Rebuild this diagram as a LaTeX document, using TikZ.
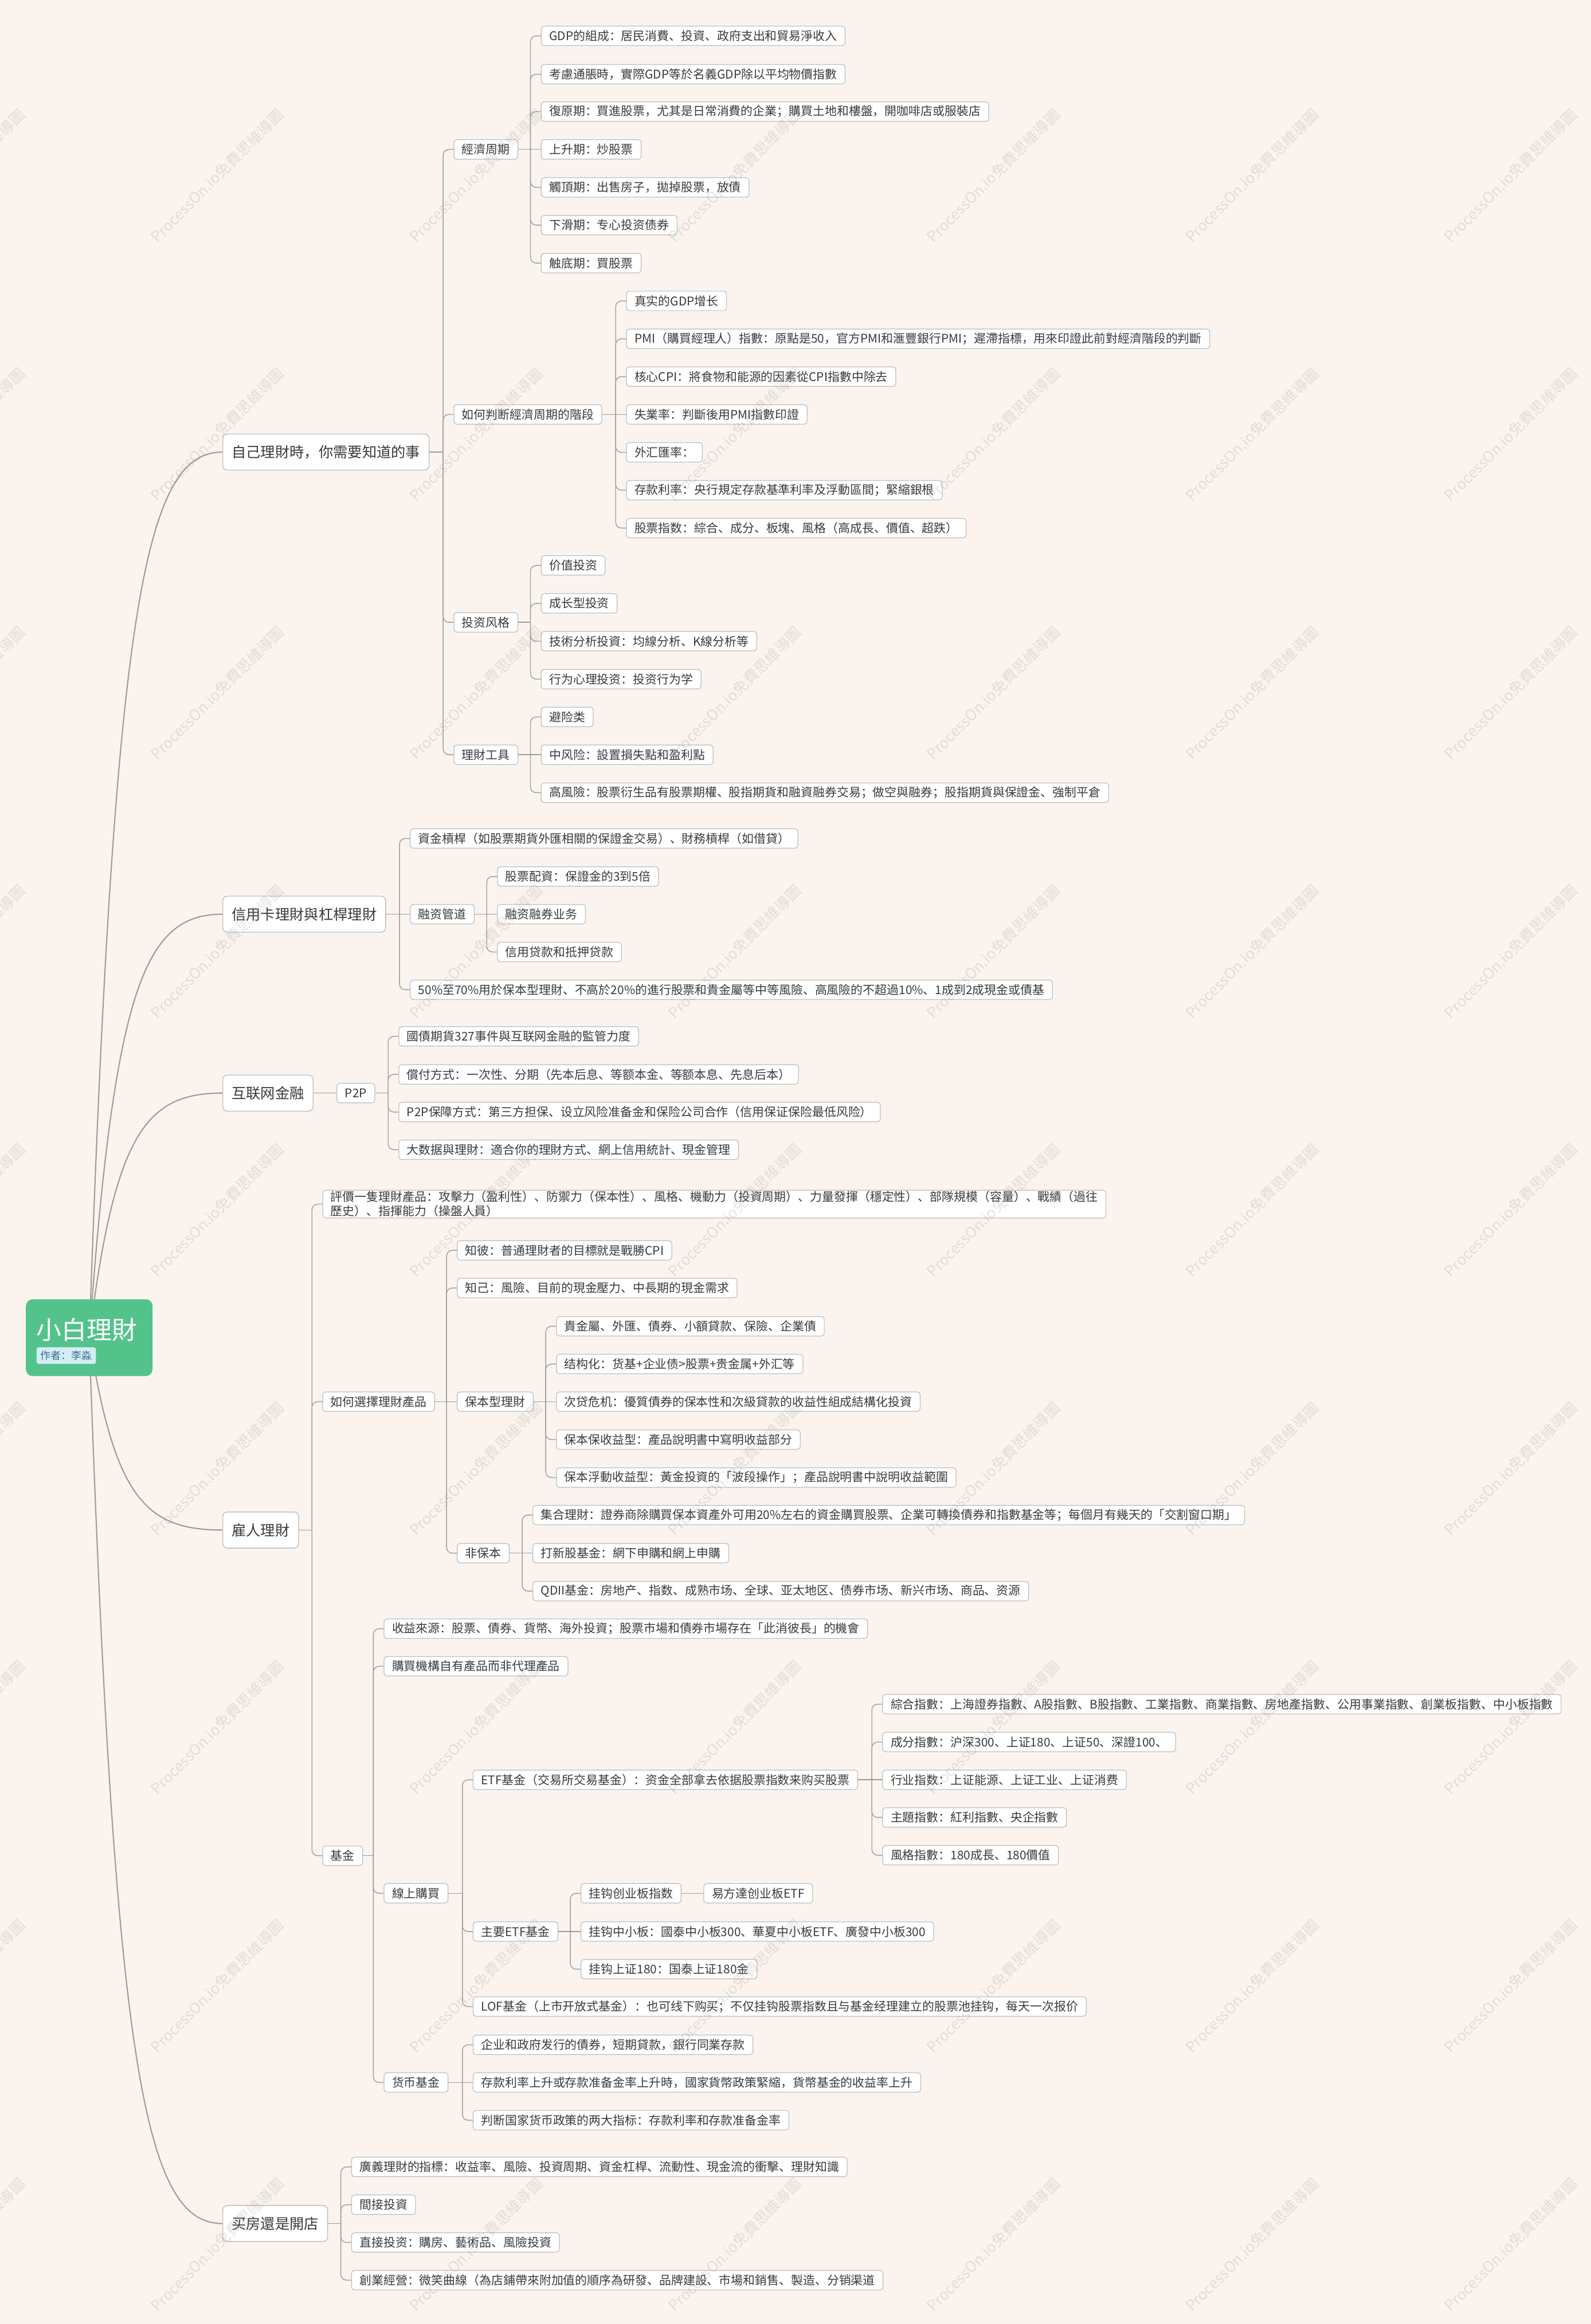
\documentclass[tikz,border=0pt]{standalone}
\usepackage{fontspec}
\setmainfont{Noto Sans CJK SC}
\usetikzlibrary{calc,backgrounds}
\definecolor{paperpeach}{HTML}{FBF4EE}
\definecolor{rootgreen}{HTML}{53C38B}
\definecolor{tagblue}{HTML}{D4EDF5}
\definecolor{taginkblue}{HTML}{3D6E8C}
\definecolor{ink}{HTML}{3A3A3A}
\definecolor{boxline}{HTML}{BEBEBE}
\definecolor{linkgray}{HTML}{9C9C9C}

\begin{document}
\begin{tikzpicture}[
  x=0.02586cm,y=-0.02586cm,
  font=\fontsize{5.95pt}{7.1pt}\selectfont,
  mainidea/.style={fill=rootgreen,rounded corners=0.12cm,minimum width=2.21cm,
                   minimum height=1.34cm,inner sep=0pt},
  topicbox/.style={draw=boxline,line width=.4pt,fill=white,rounded corners=0.08cm,anchor=west,
                   text=ink,font=\fontsize{7.2pt}{8.6pt}\selectfont,minimum height=0.63cm,
                   inner xsep=0.155cm,inner ysep=0pt},
  itembox/.style={draw=boxline,line width=.35pt,fill=white,rounded corners=0.05cm,anchor=west,
                  text=ink,minimum height=0.34cm,inner xsep=0.14cm,inner ysep=0.5pt},
  linkline/.style={draw=linkgray,line width=.4pt,rounded corners=0.1cm},
  branchline/.style={draw=linkgray,line width=.6pt},
  wmark/.style={rotate=45,text=gray,text opacity=.2,font=\fontsize{7.4pt}{8pt}\selectfont,inner sep=0pt}
]
\useasboundingbox (0,0) rectangle (1073,1568);

% Central idea
\node[mainidea] (root) at (60.2,902.5) {};
\node[anchor=west,text=white,font=\fontsize{12.5pt}{14pt}\selectfont,inner sep=0pt] (title) at (24.4,897) {小白理財};
\node[anchor=west,fill=tagblue,text=taginkblue,rounded corners=0.04cm,font=\fontsize{5.1pt}{6pt}\selectfont,
      inner xsep=0.07cm,inner ysep=0pt,minimum height=0.29cm] (author) at (24.4,914.6) {作者：李淼};

% Main topics
\node[topicbox] (self) at (150,305) {自己理財時，你需要知道的事};
\node[topicbox] (credit) at (150,616.8) {信用卡理財與杠桿理財};
\node[topicbox] (net) at (150,737.5) {互联网金融};
\node[topicbox] (hire) at (150,1032.3) {雇人理財};
\node[topicbox] (shop) at (150,1500.2) {买房還是開店};

% Knowing the basics
\node[itembox] (cycle) at (305.9,100.8) {經濟周期};
\node[itembox] (phase) at (305.9,279.6) {如何判断經濟周期的階段};
\node[itembox] (style) at (305.9,419.9) {投资风格};
\node[itembox] (tools) at (305.9,509.2) {理財工具};

\node[itembox] (gdp) at (364.8,24.2) {GDP的組成：居民消費、投資、政府支出和貿易淨收入};
\node[itembox] (real) at (364.8,50.1) {考慮通脹時，實際GDP等於名義GDP除以平均物價指數};
\node[itembox] (recover) at (364.8,75.3) {復原期：買進股票，尤其是日常消費的企業；購買土地和樓盤，開咖啡店或服裝店};
\node[itembox] (rise) at (364.8,100.8) {上升期：炒股票};
\node[itembox] (peak) at (364.8,126.4) {觸頂期：出售房子，拋掉股票，放債};
\node[itembox] (slide) at (364.8,151.9) {下滑期：专心投资债券};
\node[itembox] (bottom) at (364.8,177.5) {触底期：買股票};

\node[itembox] (gdpgrow) at (422.3,203.0) {真实的GDP增长};
\node[itembox] (pmi) at (422.3,228.6) {PMI（購買經理人）指數：原點是50，官方PMI和滙豐銀行PMI；遲滯指標，用來印證此前對經濟階段的判斷};
\node[itembox] (cpi) at (422.3,254.1) {核心CPI：將食物和能源的因素從CPI指數中除去};
\node[itembox] (jobless) at (422.3,279.6) {失業率：判斷後用PMI指數印證};
\node[itembox] (fx) at (422.3,305.2) {外汇匯率：};
\node[itembox] (deposit) at (422.3,330.7) {存款利率：央行規定存款基準利率及浮動區間；緊縮銀根};
\node[itembox] (stockidx) at (422.3,356.3) {股票指数：綜合、成分、板塊、風格（高成長、價值、超跌）};

\node[itembox] (value) at (364.8,381.5) {价值投资};
\node[itembox] (growth) at (364.8,407.1) {成长型投资};
\node[itembox] (tech) at (364.8,432.6) {技術分析投資：均線分析、K線分析等};
\node[itembox] (behav) at (364.8,458.2) {行为心理投资：投资行为学};

\node[itembox] (hedge) at (364.8,483.7) {避险类};
\node[itembox] (midrisk) at (364.8,509.2) {中风险：設置損失點和盈利點};
\node[itembox] (highrisk) at (364.8,534.8) {高風險：股票衍生品有股票期權、股指期貨和融資融券交易；做空與融券；股指期貨與保證金、強制平倉};

% Leverage
\node[itembox] (lever) at (276.5,565.7) {資金槓桿（如股票期貨外匯相關的保證金交易）、財務槓桿（如借貸）};
\node[itembox] (channel) at (276.5,616.8) {融资管道};
\node[itembox] (ratio) at (276.5,667.8) {50\%至70\%用於保本型理財、不高於20\%的進行股票和貴金屬等中等風險、高風險的不超過10\%、1成到2成現金或債基};
\node[itembox] (margin) at (335.3,591.4) {股票配資：保證金的3到5倍};
\node[itembox] (mfsl) at (335.3,616.8) {融资融券业务};
\node[itembox] (loans) at (335.3,642.3) {信用贷款和抵押贷款};

% Internet finance
\node[itembox] (ptp) at (227,737.5) {P2P};
\node[itembox] (bondevt) at (268.8,699.2) {國債期貨327事件與互联网金融的監管力度};
\node[itembox] (repay) at (268.8,724.9) {償付方式：一次性、分期（先本后息、等额本金、等额本息、先息后本）};
\node[itembox] (guard) at (268.8,750.3) {P2P保障方式：第三方担保、设立风险准备金和保险公司合作（信用保证保险最低风险）};
\node[itembox] (bigdata) at (268.8,775.7) {大数据與理財：適合你的理財方式、網上信用統計、現金管理};

% Hired management
\node[itembox,align=left] (rating) at (217.4,812.4) {評價一隻理財產品：攻擊力（盈利性）、防禦力（保本性）、風格、機動力（投資周期）、力量發揮（穩定性）、部隊規模（容量）、戰績（過往\\歷史）、指揮能力（操盤人員）};
\node[itembox] (choose) at (217.4,945.7) {如何選擇理財產品};
\node[itembox] (fund) at (217.4,1252) {基金};

\node[itembox] (knowthem) at (308.2,843.6) {知彼：普通理財者的目標就是戰勝CPI};
\node[itembox] (knowself) at (308.2,869.0) {知己：風險、目前的現金壓力、中長期的現金需求};
\node[itembox] (safe) at (308.2,945.7) {保本型理財};
\node[itembox] (unsafe) at (308.2,1047.9) {非保本};

\node[itembox] (metals) at (375.1,894.8) {貴金屬、外匯、債券、小額貸款、保險、企業債};
\node[itembox] (struct) at (375.1,920.3) {结构化：货基+企业债>股票+贵金属+外汇等};
\node[itembox] (subprime) at (375.1,945.7) {次贷危机：優質債券的保本性和次級貸款的收益性組成結構化投資};
\node[itembox] (fixedret) at (375.1,971.3) {保本保收益型：產品說明書中寫明收益部分};
\node[itembox] (floatret) at (375.1,996.9) {保本浮動收益型：黃金投資的「波段操作」；產品說明書中說明收益範圍};

\node[itembox] (pooled) at (359.2,1022.2) {集合理財：證券商除購買保本資產外可用20\%左右的資金購買股票、企業可轉換債券和指數基金等；每個月有幾天的「交割窗口期」};
\node[itembox] (ipofund) at (359.2,1047.9) {打新股基金：網下申購和網上申購};
\node[itembox] (qdii) at (359.2,1073.5) {QDII基金：房地产、指数、成熟市场、全球、亚太地区、债券市场、新兴市场、商品、资源};

\node[itembox] (income) at (258.8,1098.9) {收益來源：股票、債券、貨幣、海外投資；股票市場和債券市場存在「此消彼長」的機會};
\node[itembox] (ownprod) at (258.8,1124.2) {購買機構自有產品而非代理產品};
\node[itembox] (online) at (258.8,1277.4) {線上購買};
\node[itembox] (money) at (258.8,1405.0) {货币基金};

\node[itembox] (etf) at (318.9,1200.8) {ETF基金（交易所交易基金）：资金全部拿去依据股票指数来购买股票};
\node[itembox] (mainetf) at (318.9,1303.2) {主要ETF基金};
\node[itembox] (lof) at (318.9,1353.8) {LOF基金（上市开放式基金）：也可线下购买；不仅挂钩股票指数且与基金经理建立的股票池挂钩，每天一次报价};

\node[itembox] (composite) at (595.1,1149.8) {綜合指數：上海證券指數、A股指數、B股指數、工業指數、商業指數、房地產指數、公用事業指數、創業板指數、中小板指數};
\node[itembox] (component) at (595.1,1175.3) {成分指數：沪深300、上证180、上证50、深證100、};
\node[itembox] (sector) at (595.1,1200.8) {行业指数：上证能源、上证工业、上证消费};
\node[itembox] (theme) at (595.1,1226.2) {主題指數：紅利指數、央企指數};
\node[itembox] (styleidx) at (595.1,1251.7) {風格指數：180成長、180價值};

\node[itembox] (gem) at (391.7,1277.4) {挂钩创业板指数};
\node[itembox] (efund) at (474.5,1277.4) {易方達创业板ETF};
\node[itembox] (sme) at (391.7,1303.2) {挂钩中小板：國泰中小板300、華夏中小板ETF、廣發中小板300};
\node[itembox] (sse) at (391.7,1328.6) {挂钩上证180：国泰上证180金};

\node[itembox] (mbonds) at (318.9,1379.6) {企业和政府发行的債券，短期貸款，銀行同業存款};
\node[itembox] (mrate) at (318.9,1405.0) {存款利率上升或存款准备金率上升時，國家貨幣政策緊縮，貨幣基金的收益率上升};
\node[itembox] (mpolicy) at (318.9,1430.5) {判断国家货币政策的两大指标：存款利率和存款准备金率};

% House or shop
\node[itembox] (broad) at (236.9,1462.0) {廣義理財的指標：收益率、風險、投資周期、資金杠桿、流動性、現金流的衝擊、理財知識};
\node[itembox] (indirect) at (236.9,1487.5) {間接投資};
\node[itembox] (direct) at (236.9,1513.0) {直接投资：購房、藝術品、風險投資};
\node[itembox] (startup) at (236.9,1538.4) {創業經營：微笑曲線（為店鋪帶來附加值的順序為研發、品牌建設、市場和銷售、製造、分销渠道};

% Brackets from each parent to its children
\foreach \p/\f/\kids in {
  self/cycle/{cycle,phase,style,tools},
  cycle/gdp/{gdp,real,recover,rise,peak,slide,bottom},
  phase/gdpgrow/{gdpgrow,pmi,cpi,jobless,fx,deposit,stockidx},
  style/value/{value,growth,tech,behav},
  tools/hedge/{hedge,midrisk,highrisk},
  credit/lever/{lever,channel,ratio},
  channel/margin/{margin,mfsl,loans},
  net/ptp/{ptp},
  ptp/bondevt/{bondevt,repay,guard,bigdata},
  hire/rating/{rating,choose,fund},
  choose/knowthem/{knowthem,knowself,safe,unsafe},
  safe/metals/{metals,struct,subprime,fixedret,floatret},
  unsafe/pooled/{pooled,ipofund,qdii},
  fund/income/{income,ownprod,online,money},
  online/etf/{etf,mainetf,lof},
  etf/composite/{composite,component,sector,theme,styleidx},
  mainetf/gem/{gem,sme,sse},
  money/mbonds/{mbonds,mrate,mpolicy},
  shop/broad/{broad,indirect,direct,startup}}{
  \coordinate (\p-hub) at ($(\f.west |- \p.east)+(-7,0)$);
  \draw[linkline] (\p.east) -- (\p-hub);
  \foreach \k in \kids {
    \path (\k.west); \pgfgetlastxy{\kx}{\ky}
    \path (\p-hub); \pgfgetlastxy{\hx}{\hy}
    \pgfmathsetmacro{\dy}{abs(\ky-\hy)}
    \ifdim\dy pt<0.5pt
      \draw[linkline] (\p-hub) -- (\k.west);
    \else
      \draw[linkline] (\p-hub) |- (\k.west);
    \fi
  }
}
\draw[linkline] (gem.east) -- (efund.west);

\begin{scope}[on background layer]
\fill[paperpeach] (0,0) rectangle (1073,1568);
\foreach \t in {self,credit,net,hire,shop}{
  \draw[branchline] let \p1=(root.center), \p2=(\t.west) in
    (\p1) .. controls ({\x1+0.19*(\x2-\x1)},{\y1+0.83*(\y2-\y1)}) and ({\x1+0.42*(\x2-\x1)},\y2) .. (\p2);
}
\end{scope}

% Watermark grid
\foreach \i in {0,...,6}{
  \foreach \j in {0,...,8}{
    \node[wmark] (wm-\i-\j) at ({-28+174.5*\i},{118.5+174.5*\j}) {ProcessOn.io免費思維導圖};
  }
}
\end{tikzpicture}
\end{document}
